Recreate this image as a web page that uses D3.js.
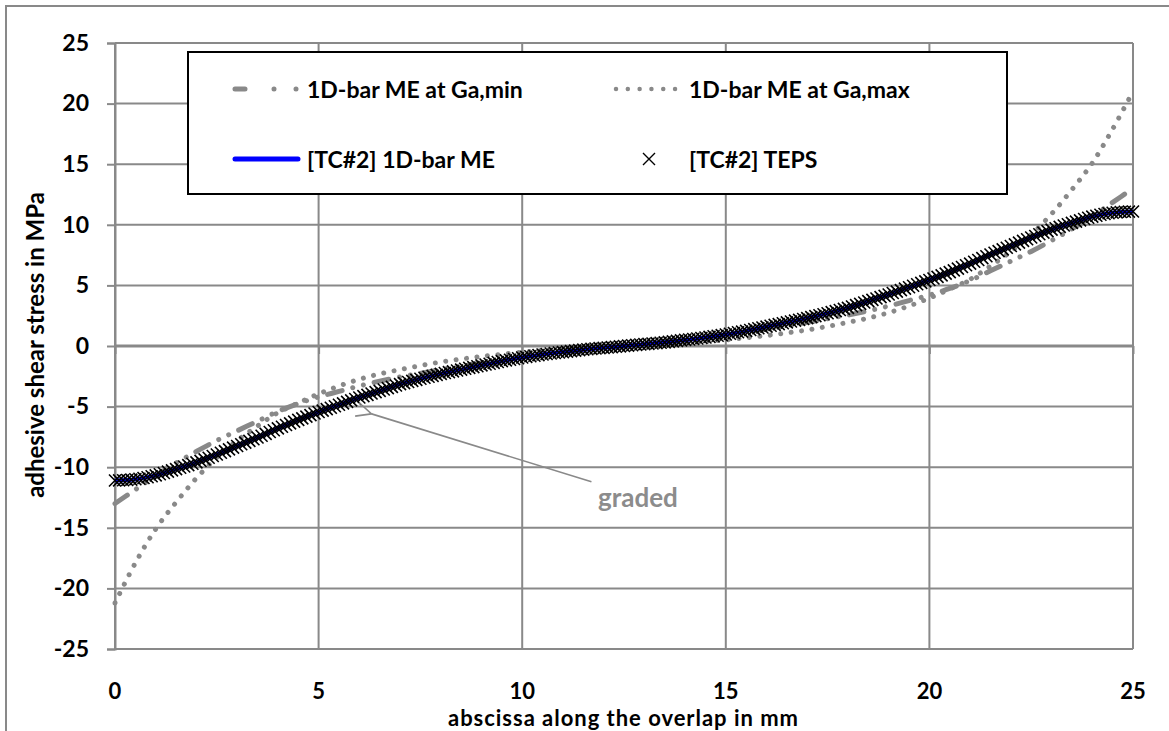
<!DOCTYPE html>
<html><head><meta charset="utf-8">
<script src="https://cdn.jsdelivr.net/npm/d3@7"></script>
<style>
body{margin:0;background:#fff}
svg{display:block}
text{font-family:Lato,'Open Sans',sans-serif;font-weight:bold}
</style>
</head><body><svg id="c" width="1169" height="731"></svg>
<script>
// ---------- data ----------
const xTicks = [0, 5, 10, 15, 20, 25];
const yTicks = [-25, -20, -15, -10, -5, 0, 5, 10, 15, 20, 25];

const coarseX = [0,0.5,1,1.5,2,2.5,3,3.5,4,4.5,5,5.5,6,6.5,7,7.5,8,8.5,9,9.5,10,10.5,11,11.5,12,12.5,
  13,13.5,14,14.5,15,15.5,16,16.5,17,17.5,18,18.5,19,19.5,20,20.5,21,21.5,22,22.5,23,23.5,24,24.5,25];

const gaMinY = [-13.0,-11.85,-10.7,-9.65,-8.7,-7.8,-7.0,-6.2,-5.4,-4.75,-4.2,-3.75,-3.3,-2.9,-2.55,-2.25,-1.95,-1.65,-1.4,-1.15,-0.9,-0.7,-0.5,-0.33,-0.17,0,
  0.17,0.33,0.5,0.7,0.9,1.15,1.4,1.65,1.95,2.25,2.55,2.9,3.3,3.75,4.2,4.75,5.4,6.2,7.0,7.8,8.7,9.65,10.7,11.85,13.0];

const gaMaxY = [-21.2,-17.9,-15.1,-12.9,-10.9,-9.2,-7.8,-6.6,-5.5,-4.7,-3.95,-3.3,-2.75,-2.3,-1.95,-1.62,-1.32,-1.08,-0.86,-0.68,-0.5,-0.37,-0.25,-0.15,-0.07,0,
  0.07,0.15,0.25,0.37,0.5,0.68,0.86,1.08,1.32,1.62,1.95,2.3,2.75,3.3,3.95,4.7,5.5,6.6,7.8,9.2,10.9,12.9,15.1,17.9,21.0];

const meY = [-11.10,-10.99,-10.67,-10.16,-9.60,-8.95,-8.25,-7.55,-6.80,-6.10,-5.45,-4.85,-4.25,-3.70,-3.15,-2.70,-2.30,-1.95,-1.60,-1.25,-0.95,-0.70,-0.50,-0.30,-0.15,0,
  0.15,0.30,0.50,0.70,0.95,1.25,1.60,1.95,2.30,2.70,3.15,3.70,4.25,4.85,5.45,6.10,6.80,7.55,8.25,8.95,9.60,10.16,10.67,10.99,11.10];

// TEPS sampled every 0.1 mm from 0 to 25
const tepsY = [
-11.10,-11.09,-11.08,-11.06,-11.03,-10.99,-10.95,-10.89,-10.83,-10.75,
-10.67,-10.58,-10.48,-10.37,-10.26,-10.16,-10.05,-9.94,-9.83,-9.72,
-9.60,-9.48,-9.35,-9.22,-9.08,-8.95,-8.81,-8.67,-8.53,-8.39,
-8.25,-8.11,-7.97,-7.83,-7.69,-7.55,-7.41,-7.25,-7.10,-6.95,
-6.80,-6.66,-6.52,-6.38,-6.24,-6.10,-5.97,-5.83,-5.70,-5.57,
-5.45,-5.33,-5.21,-5.09,-4.97,-4.85,-4.73,-4.61,-4.49,-4.37,
-4.25,-4.14,-4.03,-3.92,-3.81,-3.70,-3.59,-3.48,-3.37,-3.26,
-3.15,-3.06,-2.97,-2.88,-2.79,-2.70,-2.62,-2.54,-2.46,-2.38,
-2.30,-2.23,-2.16,-2.09,-2.02,-1.95,-1.88,-1.81,-1.74,-1.67,
-1.60,-1.53,-1.46,-1.39,-1.32,-1.25,-1.19,-1.13,-1.07,-1.01,
-0.95,-0.90,-0.85,-0.80,-0.75,-0.70,-0.66,-0.62,-0.58,-0.54,
-0.50,-0.46,-0.42,-0.38,-0.34,-0.30,-0.27,-0.24,-0.21,-0.18,
-0.15,-0.12,-0.09,-0.06,-0.03,0.00,
0.03,0.06,0.09,0.12,0.15,0.18,0.21,0.24,0.27,0.30,
0.34,0.38,0.42,0.46,0.50,0.54,0.58,0.62,0.66,0.70,
0.75,0.80,0.85,0.90,0.95,1.01,1.07,1.13,1.19,1.25,
1.32,1.39,1.46,1.53,1.60,1.67,1.74,1.81,1.88,1.95,
2.02,2.09,2.16,2.23,2.30,2.38,2.46,2.54,2.62,2.70,
2.79,2.88,2.97,3.06,3.15,3.26,3.37,3.48,3.59,3.70,
3.81,3.92,4.03,4.14,4.25,4.37,4.49,4.61,4.73,4.85,
4.97,5.09,5.21,5.33,5.45,5.57,5.70,5.83,5.97,6.10,
6.24,6.38,6.52,6.66,6.80,6.95,7.10,7.25,7.41,7.55,
7.69,7.83,7.97,8.11,8.25,8.39,8.53,8.67,8.81,8.95,
9.08,9.22,9.35,9.48,9.60,9.72,9.83,9.94,10.05,10.16,
10.26,10.37,10.48,10.58,10.67,10.75,10.83,10.89,10.95,10.99,
11.03,11.06,11.08,11.09,11.10];
const tepsX = tepsY.map((_, i) => i / 10);

const seriesNames = ["1D-bar ME at Ga,min", "1D-bar ME at Ga,max", "[TC#2] 1D-bar ME", "[TC#2] TEPS"];
const xTitle = "abscissa along the overlap in mm";
const yTitle = "adhesive shear stress in MPa";
const annotation = "graded";

// ---------- drawing ----------
const svg = d3.select("#c");
const GRAY = "#898989";
const x = d3.scaleLinear().domain([0, 25]).range([115, 1133]);
const y = d3.scaleLinear().domain([-25, 25]).range([649, 43]);

// outer chart border
svg.append("rect").attr("x", 6).attr("y", 6).attr("width", 1250).attr("height", 800)
  .attr("fill", "none").attr("stroke", GRAY).attr("stroke-width", 2);

// gridlines
const grid = svg.append("g");
grid.selectAll("line.h").data(yTicks).join("line")
  .attr("x1", x(0)).attr("x2", x(25)).attr("y1", d => y(d)).attr("y2", d => y(d))
  .attr("stroke", GRAY).attr("stroke-width", d => d === 0 ? 3 : 2);
grid.selectAll("line.v").data(xTicks).join("line")
  .attr("x1", d => x(d)).attr("x2", d => x(d)).attr("y1", y(25)).attr("y2", y(-25))
  .attr("stroke", GRAY).attr("stroke-width", 2);

// y axis (ticks + labels)
const ya = svg.append("g").attr("transform", `translate(${x(0)},0)`)
  .call(d3.axisLeft(y).tickValues(yTicks).tickSize(8).tickPadding(18).tickFormat(d => String(d)));
ya.select(".domain").attr("stroke", GRAY).attr("stroke-width", 2);
ya.selectAll(".tick line").attr("stroke", GRAY).attr("stroke-width", 2);
ya.selectAll(".tick text").attr("font-size", 23).attr("font-family", "Lato").attr("font-weight", "bold").attr("fill", "#000");

// x axis ticks at zero line
const xa = svg.append("g").attr("transform", `translate(0,${y(0)})`)
  .call(d3.axisBottom(x).tickValues(xTicks).tickSize(8).tickFormat(""));
xa.select(".domain").remove();
xa.selectAll(".tick line").attr("stroke", GRAY).attr("stroke-width", 2);

// x tick labels at bottom
svg.append("g").selectAll("text").data(xTicks).join("text")
  .attr("x", d => x(d)).attr("y", 699).attr("text-anchor", "middle")
  .attr("font-size", 22).text(d => String(d));

// axis titles
svg.append("text").attr("x", 623).attr("y", 726).attr("text-anchor", "middle")
  .attr("font-size", 22).attr("textLength", 350).attr("lengthAdjust", "spacing").text(xTitle);
svg.append("text").attr("transform", "translate(34,345) rotate(-90)").attr("text-anchor", "middle")
  .attr("dominant-baseline", "central").attr("font-size", 24).text(yTitle);

// series
const line = (xs, ys) => d3.line().curve(d3.curveCatmullRom.alpha(0.5))
  .x((d, i) => x(xs[i])).y(d => y(d))(ys);

const plot = svg.append("g");
plot.append("path").attr("d", line(coarseX, gaMaxY)).attr("fill", "none")
  .attr("stroke", GRAY).attr("stroke-width", 5).attr("stroke-linecap", "round")
  .attr("stroke-dasharray", "0.01,10.5");
plot.append("path").attr("d", line(coarseX, gaMinY)).attr("fill", "none")
  .attr("stroke", GRAY).attr("stroke-width", 5).attr("stroke-linecap", "round")
  .attr("stroke-dasharray", "15,11,0.01,11,0.01,11");
plot.append("path").attr("d", line(coarseX, meY)).attr("fill", "none")
  .attr("stroke", "#0000ff").attr("stroke-width", 4);
const xMark = "M-6,-6L6,6M-6,6L6,-6";
plot.append("g").selectAll("path").data(tepsY).join("path")
  .attr("transform", (d, i) => `translate(${x(tepsX[i])},${y(d)})`)
  .attr("d", xMark).attr("fill", "none").attr("stroke", "#000").attr("stroke-width", 1.6);

// annotation
svg.append("defs").append("marker").attr("id", "arr").attr("viewBox", "0 0 20 20")
  .attr("refX", 1).attr("refY", 10).attr("markerWidth", 20).attr("markerHeight", 20)
  .attr("markerUnits", "userSpaceOnUse").attr("orient", "auto-start-reverse")
  .append("path").attr("d", "M16,3L1,10L16,17").attr("fill", "none").attr("stroke", GRAY).attr("stroke-width", 1.6);
svg.append("line").attr("x1", x(11.7)).attr("y1", y(-11.2)).attr("x2", x(6.3)).attr("y2", y(-5.6))
  .attr("stroke", GRAY).attr("stroke-width", 1.6).attr("marker-end", "url(#arr)");
svg.append("text").attr("x", 598).attr("y", 497).attr("dominant-baseline", "central")
  .attr("font-size", 26).attr("fill", "#8c8c8c").text(annotation);

// legend
const lg = svg.append("g");
lg.append("rect").attr("x", 188).attr("y", 52).attr("width", 819).attr("height", 142)
  .attr("fill", "#fff").attr("stroke", "#000").attr("stroke-width", 2);
const r1 = 89, r2 = 159, c1 = 307, c2 = 689;
lg.append("line").attr("x1", 235).attr("x2", 300).attr("y1", r1).attr("y2", r1)
  .attr("stroke", GRAY).attr("stroke-width", 5).attr("stroke-linecap", "round")
  .attr("stroke-dasharray", "10,29,0.01,22,0.01,100");
lg.append("line").attr("x1", 616).attr("x2", 676).attr("y1", r1).attr("y2", r1)
  .attr("stroke", GRAY).attr("stroke-width", 4.5).attr("stroke-linecap", "round")
  .attr("stroke-dasharray", "0.01,11.8");
lg.append("line").attr("x1", 235).attr("x2", 298).attr("y1", r2).attr("y2", r2)
  .attr("stroke", "#0000ff").attr("stroke-width", 5).attr("stroke-linecap", "round");
lg.append("path").attr("transform", `translate(649,${r2})`).attr("d", "M-6,-6L6,6M-6,6L6,-6")
  .attr("fill", "none").attr("stroke", "#000").attr("stroke-width", 1.4);
const legPos = [[c1, r1], [c2, r1], [c1, r2], [c2, r2]];
lg.selectAll("text").data(seriesNames).join("text")
  .attr("x", (d, i) => legPos[i][0]).attr("y", (d, i) => legPos[i][1])
  .attr("dominant-baseline", "central").attr("font-size", 23).text(d => d);
</script>
</body></html>
